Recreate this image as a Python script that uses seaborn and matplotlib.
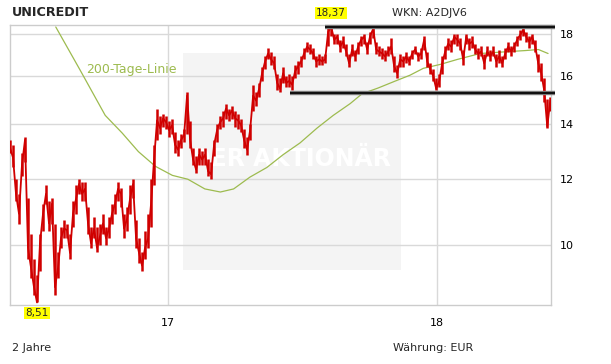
import numpy as np
import pandas as pd
import matplotlib
matplotlib.use("Agg")
import matplotlib.pyplot as plt
from matplotlib.patches import Rectangle
import seaborn as sns

# ---------------- data ----------------
title = "UNICREDIT"
wkn = "WKN: A2DJV6"
period_label = "2 Jahre"
currency_label = "Währung: EUR"
ma_label = "200-Tage-Linie"

first_day = "2016-06-01"
last_day = "2018-06-03"
close = [
    13.10, 12.75, 11.52, 10.90, 12.50, 13.39, 9.91, 9.38, 8.88, 8.51,
    10.04, 10.90, 11.52, 10.61, 11.21, 8.88, 9.38, 10.18, 10.46, 10.41,
    9.77, 10.90, 11.36, 11.84, 11.52, 11.68, 10.61, 10.04, 10.46, 9.91,
    10.24, 10.61, 10.18, 10.46, 10.90, 11.21, 11.68, 11.52, 10.46, 10.75,
    11.36, 11.84, 10.18, 9.77, 9.43, 9.91, 10.18, 11.21, 12.68, 14.14,
    13.84, 14.22, 14.07, 13.76, 13.95, 13.21, 13.03, 13.39, 13.57, 15.15,
    13.39, 12.68, 12.33, 12.85, 12.68, 12.85, 12.27, 12.17, 13.21, 13.76,
    14.07, 14.22, 14.62, 14.34, 14.54, 14.22, 14.14, 13.95, 13.39, 13.03,
    13.76, 15.15, 14.94, 15.44, 16.13, 16.67, 17.04, 16.76, 16.58, 15.70,
    15.44, 16.13, 15.70, 15.78, 15.62, 16.22, 16.44, 16.67, 17.04, 17.37,
    17.23, 17.04, 16.67, 16.76, 16.67, 16.76, 18.10, 18.37, 17.71, 17.85,
    17.37, 17.61, 17.13, 16.58, 17.23, 16.90, 17.37, 17.71, 17.85, 17.23,
    17.90, 18.25, 17.23, 17.13, 17.04, 16.90, 17.13, 17.37, 16.44, 16.13,
    16.76, 16.67, 16.90, 16.67, 17.04, 17.23, 16.90, 17.04, 17.71, 16.67,
    16.31, 16.00, 15.45, 15.78, 16.58, 17.13, 17.51, 17.37, 17.85, 17.71,
    17.51, 16.76, 17.85, 17.51, 17.61, 17.23, 17.04, 17.13, 16.58, 17.13,
    16.90, 17.13, 16.67, 16.90, 16.58, 17.04, 17.37, 17.13, 17.37, 17.71,
    17.95, 18.20, 17.85, 17.61, 17.85, 17.37, 16.58, 16.13, 15.36, 13.90,
    14.94,
]
low = [
    12.90, 12.40, 11.30, 10.60, 12.10, 12.60, 9.60, 9.10, 8.70, 8.51,
    9.30, 10.40, 11.20, 10.40, 10.60, 8.70, 9.10, 9.90, 10.20, 10.20,
    9.60, 10.50, 10.90, 11.50, 11.30, 11.30, 10.30, 9.90, 10.20, 9.80,
    10.00, 10.30, 10.00, 10.20, 10.60, 10.90, 11.30, 11.10, 10.20, 10.40,
    10.90, 11.40, 9.90, 9.50, 9.30, 9.60, 9.90, 10.50, 11.80, 13.40,
    13.60, 13.90, 13.80, 13.50, 13.60, 12.90, 12.80, 13.10, 13.30, 13.60,
    13.10, 12.50, 12.20, 12.50, 12.50, 12.50, 12.10, 12.00, 12.80, 13.30,
    13.80, 13.90, 14.20, 14.10, 14.20, 13.90, 13.80, 13.70, 13.10, 12.85,
    13.40, 14.50, 14.70, 15.10, 15.80, 16.30, 16.80, 16.50, 16.30, 15.40,
    15.30, 15.70, 15.50, 15.50, 15.40, 15.90, 16.10, 16.40, 16.80, 17.10,
    17.00, 16.80, 16.40, 16.50, 16.50, 16.60, 17.40, 17.90, 17.50, 17.50,
    17.10, 17.30, 16.90, 16.40, 16.90, 16.70, 17.00, 17.40, 17.50, 17.00,
    17.50, 17.80, 17.00, 16.90, 16.80, 16.70, 16.90, 17.00, 16.20, 15.90,
    16.40, 16.40, 16.60, 16.50, 16.80, 17.00, 16.70, 16.80, 17.20, 16.40,
    16.10, 15.80, 15.40, 15.50, 16.10, 16.80, 17.20, 17.10, 17.50, 17.40,
    17.20, 16.50, 17.50, 17.20, 17.30, 17.00, 16.80, 16.90, 16.30, 16.90,
    16.70, 16.90, 16.40, 16.60, 16.40, 16.80, 17.10, 16.90, 17.10, 17.40,
    17.70, 17.90, 17.60, 17.30, 17.50, 17.10, 16.20, 15.80, 14.90, 13.85,
    14.50,
]
high = [
    13.40, 13.20, 12.00, 11.50, 12.90, 13.50, 11.40, 10.30, 9.60, 9.20,
    10.30, 11.20, 11.80, 11.30, 11.40, 10.60, 9.80, 10.50, 10.70, 10.60,
    10.30, 11.30, 11.80, 12.00, 11.90, 11.90, 11.10, 10.50, 10.80, 10.50,
    10.60, 10.90, 10.50, 10.80, 11.20, 11.50, 11.90, 11.70, 10.90, 11.10,
    11.80, 12.00, 10.70, 10.20, 9.80, 10.40, 10.90, 12.00, 13.20, 14.60,
    14.30, 14.40, 14.30, 14.10, 14.20, 13.70, 13.40, 13.60, 13.80, 15.30,
    14.10, 13.10, 12.80, 13.10, 13.00, 13.10, 12.70, 12.60, 13.40, 14.00,
    14.30, 14.50, 14.80, 14.60, 14.70, 14.50, 14.40, 14.20, 13.80, 13.50,
    14.00, 15.60, 15.30, 15.70, 16.40, 16.90, 17.30, 17.10, 16.90, 16.10,
    15.90, 16.40, 16.00, 16.10, 16.00, 16.50, 16.70, 16.90, 17.30, 17.60,
    17.50, 17.30, 16.90, 17.00, 16.90, 17.00, 18.30, 18.37, 18.00, 18.00,
    17.70, 17.90, 17.50, 17.00, 17.50, 17.20, 17.60, 17.90, 18.00, 17.60,
    18.10, 18.30, 17.60, 17.40, 17.30, 17.20, 17.40, 17.80, 16.90, 16.50,
    17.00, 16.90, 17.10, 16.90, 17.20, 17.40, 17.10, 17.30, 17.90, 17.10,
    16.60, 16.30, 15.90, 16.10, 16.90, 17.40, 17.80, 17.70, 18.00, 18.00,
    17.80, 17.20, 18.00, 17.80, 17.90, 17.50, 17.30, 17.40, 17.00, 17.40,
    17.20, 17.40, 17.00, 17.20, 16.90, 17.30, 17.60, 17.40, 17.60, 17.90,
    18.20, 18.30, 18.10, 17.90, 18.00, 17.70, 17.00, 16.60, 15.90, 15.00,
    15.10,
]

ma_dates = [
    "2016-08-02", "2016-09-04", "2016-10-08", "2016-10-31", "2016-11-22",
    "2016-12-15", "2017-01-07", "2017-01-28", "2017-02-20", "2017-03-13",
    "2017-03-31", "2017-04-22", "2017-05-15", "2017-06-06", "2017-06-29",
    "2017-07-22", "2017-08-13", "2017-09-05", "2017-09-21", "2017-10-13",
    "2017-11-05", "2017-11-25", "2017-12-13", "2018-01-05", "2018-01-28",
    "2018-02-28", "2018-04-07", "2018-04-30", "2018-05-18", "2018-05-31",
]
ma_values = [
    18.35, 16.27, 14.34, 13.65, 12.96, 12.44, 12.13, 12.00, 11.68, 11.58,
    11.68, 12.07, 12.40, 12.85, 13.28, 13.84, 14.34, 14.82, 15.23, 15.48,
    15.78, 16.04, 16.35, 16.53, 16.76, 17.04, 17.13, 17.18, 17.23, 17.04,
]

max_value, max_text = 18.37, "18,37"
min_value, min_text = 8.51, "8,51"
resistance = 18.37
resistance_start = "2017-08-02"
support = 15.28
support_start = "2017-06-16"
lines_end = "2018-06-10"

y_ticks = [10, 12, 14, 16, 18]
y_tick_labels = ["10", "12", "14", "16", "18"]
x_ticks = ["2017-01-01", "2018-01-01"]
x_tick_labels = ["17", "18"]
x_range = ("2016-06-01", "2018-06-04")
y_range = (8.45, 18.45)

# ---------------- frames ----------------
price_df = pd.DataFrame({
    "date": pd.date_range(first_day, last_day, periods=len(close)),
    "close": close, "low": low, "high": high,
})
ma_df = pd.DataFrame({"date": pd.to_datetime(ma_dates), "ma": ma_values})

# ---------------- style ----------------
sns.set_style("white")
plt.rcParams["font.family"] = ["DejaVu Sans"]

RED = "#d00000"
GREEN = "#9dbb4f"
GRID = "#d9d9d9"

fig = plt.figure(figsize=(6.11, 3.64), dpi=100)
ax = fig.add_axes([10 / 611, 1 - 305 / 364, 541 / 611, 280 / 364])

# watermark panel
ax.add_patch(Rectangle((0.3198, 0.125), 0.4029, 0.775, transform=ax.transAxes,
                       facecolor="#f4f4f4", edgecolor="none", zorder=0))
ax.text(0.52, 0.52, "DER AKTIONÄR", transform=ax.transAxes, color="white",
        fontsize=17, fontweight="bold", ha="center", va="center", zorder=0.5)

ax.set_yscale("log")
ax.set_ylim(*y_range)
ax.set_xlim(pd.Timestamp(x_range[0]), pd.Timestamp(x_range[1]))

for v in y_ticks:
    ax.axhline(v, color=GRID, lw=1.0, zorder=1)
for d in x_ticks:
    ax.axvline(pd.Timestamp(d), color=GRID, lw=1.0, zorder=1)

sns.lineplot(data=ma_df, x="date", y="ma", ax=ax, color=GREEN, lw=0.9,
             zorder=2, legend=False)
ax.vlines(price_df["date"], price_df["low"], price_df["high"], color=RED,
          lw=1.8, zorder=3)
sns.lineplot(data=price_df, x="date", y="close", ax=ax, color=RED, lw=1.3,
             zorder=3, legend=False)

for level, start in [(resistance, resistance_start), (support, support_start)]:
    ax.plot([pd.Timestamp(start), pd.Timestamp(lines_end)], [level, level],
            color="#888888", lw=3.2, solid_capstyle="butt", zorder=4, clip_on=False)
    ax.plot([pd.Timestamp(start), pd.Timestamp(lines_end)], [level, level],
            color="#111111", lw=1.6, solid_capstyle="butt", zorder=5, clip_on=False)

# axes styling
for s in ax.spines.values():
    s.set_color("#cccccc")
    s.set_linewidth(1.0)

ax.yaxis.tick_right()
ax.set_yticks(y_ticks)
ax.set_yticklabels(y_tick_labels)
ax.yaxis.set_minor_locator(matplotlib.ticker.NullLocator())
ax.set_xticks([pd.Timestamp(d) for d in x_ticks])
ax.set_xticklabels(x_tick_labels)
ax.tick_params(axis="y", length=0, pad=6, labelsize=8, colors="black")
ax.tick_params(axis="x", length=0, pad=9, labelsize=8, colors="black")
ax.set_xlabel("")
ax.set_ylabel("")

# max / min labels
max_date = price_df.loc[price_df["close"].idxmax(), "date"]
min_date = price_df.loc[price_df["close"].idxmin(), "date"]
ax.annotate(max_text, xy=(max_date, max_value), xytext=(0, 6),
            textcoords="offset points", ha="center", va="bottom", fontsize=7.5,
            bbox=dict(boxstyle="square,pad=0.1", fc="#ffff00", ec="none"),
            annotation_clip=False, zorder=6)
ax.annotate(min_text, xy=(min_date, y_range[0]), xytext=(0, -2),
            textcoords="offset points", ha="center", va="top", fontsize=7.5,
            bbox=dict(boxstyle="square,pad=0.1", fc="#ffff00", ec="none"),
            annotation_clip=False, zorder=6)

# texts
fig.text(12 / 611, 1 - 12 / 364, title, fontsize=9.2, fontweight="bold",
         ha="left", va="center")
fig.text(392 / 611, 1 - 13 / 364, wkn, fontsize=8, ha="left", va="center")
fig.text(86 / 611, 1 - 69 / 364, ma_label, fontsize=9, color=GREEN,
         ha="left", va="center")
fig.text(12 / 611, 1 - 348 / 364, period_label, fontsize=8, ha="left", va="center")
fig.text(393 / 611, 1 - 348 / 364, currency_label, fontsize=8, ha="left", va="center")

fig.savefig("out.png", dpi=100)
